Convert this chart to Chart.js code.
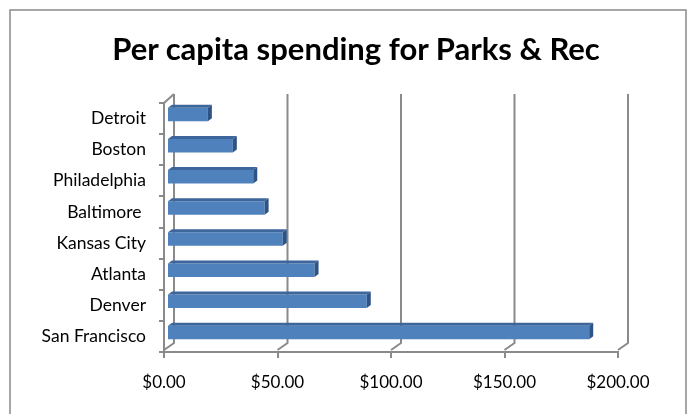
<!DOCTYPE html>
<html lang="en">
<head>
    <meta charset="UTF-8">
    <title>Per capita spending for Parks & Rec</title>
    <script src="https://cdn.jsdelivr.net/npm/chart.js"></script>
    <style>
        body { margin: 0; background: #fff; }
        #wrap { position: relative; width: 695px; height: 414px; }
        #title {
            position: absolute;
            top: 31px;
            left: 0;
            width: 712px;
            text-align: center;
            font-family: Lato, sans-serif;
            font-weight: bold;
            font-size: 31px;
            line-height: 34px;
            color: #000;
        }
    </style>
</head>
<body>
    <div id="wrap">
        <canvas id="parksChart"></canvas>
        <div id="title">Per capita spending for Parks &amp; Rec</div>
    </div>

    <script>
        // data
        const cities = ['Detroit', 'Boston', 'Philadelphia', 'Baltimore ', 'Kansas City', 'Atlanta', 'Denver', 'San Francisco'];
        const spending = [18, 29, 38, 43, 51, 65, 88, 186];
        const xTicks = [0, 50, 100, 150, 200];

        const GRID = '#8a8a8a';
        const DX = 10, DY = 9; // depth of the back wall

        // back wall, floor and 3d faces of the bars
        const depth3d = {
            id: 'depth3d',
            beforeDraw(chart) {
                const ctx = chart.ctx;
                ctx.save();
                ctx.strokeStyle = GRID;
                ctx.lineWidth = 1.5;
                ctx.strokeRect(10, 10, 676, 420);
                ctx.restore();
            },
            beforeDatasetsDraw(chart) {
                const { ctx, chartArea: a, scales: { x } } = chart;
                ctx.save();
                ctx.strokeStyle = GRID;
                ctx.lineWidth = 2;
                xTicks.forEach(v => {
                    const px = x.getPixelForValue(v);
                    ctx.beginPath();
                    ctx.moveTo(px + DX, a.top - DY);
                    ctx.lineTo(px + DX, a.bottom - DY);
                    ctx.lineTo(px, a.bottom - 2);
                    ctx.stroke();
                });
                ctx.beginPath();
                ctx.moveTo(a.left, a.top);
                ctx.lineTo(a.left + DX, a.top - DY);
                ctx.stroke();
                ctx.restore();
                // bars sit halfway into the depth
                ctx.save();
                ctx.translate(3, -4);
            },
            afterDatasetsDraw(chart) {
                const ctx = chart.ctx;
                const meta = chart.getDatasetMeta(0);
                meta.data.forEach(bar => {
                    const { x, y, base, height } = bar.getProps(['x', 'y', 'base', 'height'], true);
                    const t = y - height / 2, b = y + height / 2;
                    // top face
                    ctx.fillStyle = '#3d679c';
                    ctx.beginPath();
                    ctx.moveTo(base, t);
                    ctx.lineTo(x, t);
                    ctx.lineTo(x + 4, t - 3);
                    ctx.lineTo(base + 4, t - 3);
                    ctx.closePath();
                    ctx.fill();
                    // end face
                    ctx.fillStyle = '#2f5384';
                    ctx.beginPath();
                    ctx.moveTo(x, t);
                    ctx.lineTo(x + 4, t - 3);
                    ctx.lineTo(x + 4, b - 3);
                    ctx.lineTo(x, b);
                    ctx.closePath();
                    ctx.fill();
                });
                ctx.restore();
            }
        };

        new Chart(document.getElementById('parksChart'), {
            type: 'bar',
            data: {
                labels: cities,
                datasets: [{
                    data: spending,
                    backgroundColor: '#4f81bd',
                    borderWidth: 0,
                    categoryPercentage: 1,
                    barPercentage: 0.43
                }]
            },
            options: {
                indexAxis: 'y',
                responsive: true,
                maintainAspectRatio: false,
                animation: false,
                layout: { padding: { left: 16, right: 77, top: 103, bottom: 0 } },
                plugins: {
                    legend: { display: false },
                    tooltip: { enabled: false },
                    title: { display: false }
                },
                scales: {
                    x: {
                        min: 0,
                        max: 200,
                        afterFit(scale) { scale.height = 62; },
                        afterBuildTicks(scale) { scale.ticks = xTicks.map(v => ({ value: v })); },
                        grid: { drawOnChartArea: false, color: GRID, lineWidth: 2, tickLength: 6 },
                        border: { color: GRID, width: 2 },
                        ticks: {
                            color: '#000',
                            padding: 14,
                            font: { family: 'Lato', size: 17 },
                            callback: v => '$' + v.toFixed(2)
                        }
                    },
                    y: {
                        afterFit(scale) { scale.width = 148; },
                        grid: { drawOnChartArea: false, color: GRID, lineWidth: 2, tickLength: 5, offset: true },
                        border: { color: GRID, width: 2 },
                        ticks: {
                            color: '#000',
                            padding: 13,
                            font: { family: 'Lato', size: 17.5 }
                        }
                    }
                }
            },
            plugins: [depth3d]
        });
    </script>
</body>
</html>
